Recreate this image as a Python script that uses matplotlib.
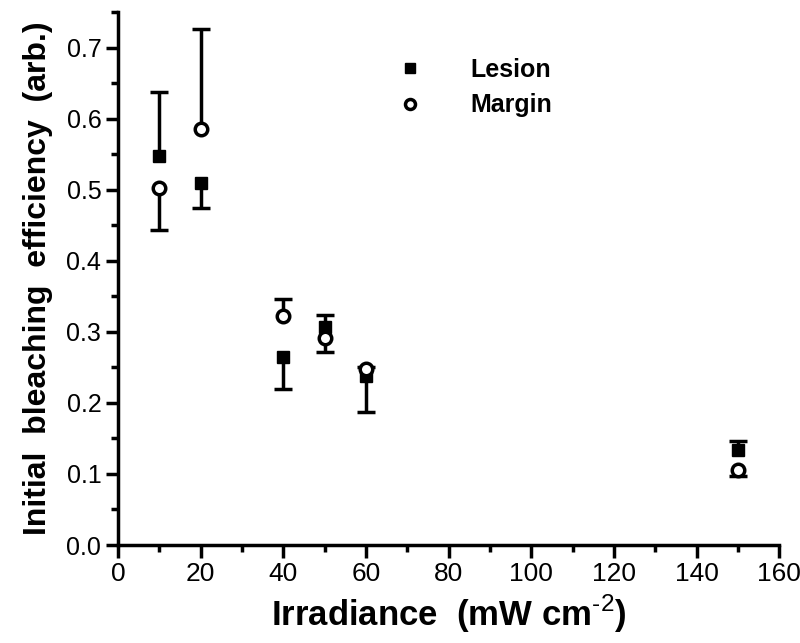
import matplotlib
matplotlib.use('Agg')
import matplotlib.pyplot as plt
from matplotlib.ticker import MultipleLocator

# Data
irradiance = [10, 20, 40, 50, 60, 150]

lesion = [0.548, 0.509, 0.265, 0.307, 0.238, 0.134]
lesion_err_low = [0.0, 0.034, 0.045, 0.0, 0.051, 0.0]
lesion_err_high = [0.090, 0.0, 0.0, 0.017, 0.0, 0.012]

margin = [0.503, 0.585, 0.322, 0.292, 0.248, 0.105]
margin_err_low = [0.060, 0.0, 0.0, 0.020, 0.0, 0.008]
margin_err_high = [0.0, 0.142, 0.024, 0.0, 0.003, 0.0]

xticks = [0, 20, 40, 60, 80, 100, 120, 140, 160]
yticks = [0.0, 0.1, 0.2, 0.3, 0.4, 0.5, 0.6, 0.7]

plt.rcParams['font.family'] = ['Liberation Sans', 'DejaVu Sans']
plt.rcParams['mathtext.fontset'] = 'custom'
plt.rcParams['mathtext.rm'] = 'Liberation Sans'
plt.rcParams['mathtext.bf'] = 'Liberation Sans:bold'

fig = plt.figure(figsize=(8, 6.43), dpi=100)
ax = fig.add_axes([0.1475, 0.1524, 0.8265, 0.8286])


def one_sided(x, y, low, high, z):
    # only one side of each error bar is shown in the original
    for errs, sign in [(low, -1), (high, 1)]:
        for xi, yi, e in zip(x, y, errs):
            if e <= 0:
                continue
            end = yi + sign * e
            ax.vlines(xi, yi, end, color='black', linewidth=2.5, zorder=z)
            ax.plot([xi], [end], marker='_', markersize=13,
                    markeredgewidth=2.5, color='black', zorder=z)


one_sided(irradiance, lesion, lesion_err_low, lesion_err_high, 2)
h1, = ax.plot(irradiance, lesion, 's', color='black', markersize=9,
              label='Lesion', zorder=3)
one_sided(irradiance, margin, margin_err_low, margin_err_high, 3.5)
h2, = ax.plot(irradiance, margin, 'o', color='black', markerfacecolor='white',
              markeredgewidth=2.5, markersize=9, label='Margin', zorder=4)

ax.set_xlim(0, 160)
ax.set_ylim(0, 0.75)
ax.set_xticks(xticks)
ax.set_yticks(yticks)
ax.xaxis.set_minor_locator(MultipleLocator(10))
ax.yaxis.set_minor_locator(MultipleLocator(0.05))
ax.set_yticklabels([f'{v:.1f}' for v in yticks], fontsize=18)
ax.set_xticklabels([str(v) for v in xticks], fontsize=19)

for side in ['top', 'right']:
    ax.spines[side].set_visible(False)
for side in ['left', 'bottom']:
    ax.spines[side].set_linewidth(2.5)

ax.tick_params(which='major', direction='out', length=9, width=2.5, pad=3)
ax.tick_params(which='minor', direction='out', length=5, width=2.5)

ax.set_xlabel('Irradiance  (mW cm$^{\\mathbf{\\text{-2}}}$)', fontsize=25,
              fontweight='bold', labelpad=5)
ax.set_ylabel('Initial  bleaching  efficiency  (arb.)', fontsize=23,
              fontweight='bold', labelpad=10)

ax.legend([h1, h2], ['Lesion', 'Margin'], loc='upper left',
          bbox_to_anchor=(0.37, 0.956), frameon=False,
          prop={'weight': 'bold', 'size': 18},
          handletextpad=1.4, labelspacing=0.45, markerscale=0.8)

fig.savefig('out.png', dpi=100)
